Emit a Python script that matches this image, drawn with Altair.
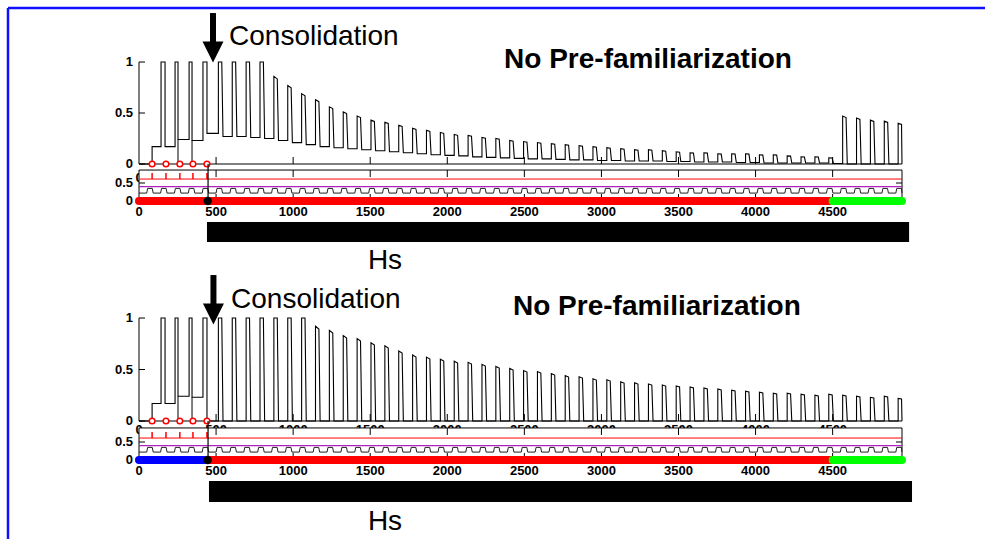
import altair as alt
import pandas as pd

# ---------------- data ----------------
XMAX = 4950
x_ticks = [0, 500, 1000, 1500, 2000, 2500, 3000, 3500, 4000, 4500]
x_tick_labels = ["0", "500", "1000", "1500", "2000", "2500", "3000", "3500", "4000", "4500"]
main_y_ticks = [0, 0.5, 1]
main_y_labels = ["0", "0.5", "1"]
sub_y_ticks = [0, 0.5]
sub_y_labels = ["0", "0.5"]

circle_x = [85, 175, 265, 350, 441]
consol_x = 448
dot_x = 446

# pre-familiarization part of the trace (vertices)
pre_x = [0, 85, 85, 143, 143, 169, 169, 234, 234, 253, 253, 325, 325, 344, 344, 415, 415, 441, 441]
pre_top_y = [0, 0, 0.17, 0.17, 1, 1, 0.17, 0.17, 1, 1, 0.24, 0.24, 1, 1, 0.23, 0.23, 1, 1, 0.30]
pre_bot_y = [0, 0, 0.17, 0.17, 1, 1, 0.17, 0.17, 1, 1, 0.24, 0.24, 1, 1, 0.23, 0.23, 1, 1, 0.0]
drop_x = [253, 344]
drop_y = [0.24, 0.23]

pulse_rise = [515, 605, 695, 785, 875, 965, 1055, 1145, 1235, 1325,
              1415, 1505, 1595, 1685, 1775, 1865, 1955, 2045, 2135, 2225,
              2315, 2405, 2495, 2585, 2675, 2765, 2855, 2945, 3035, 3125,
              3215, 3305, 3395, 3485, 3575, 3665, 3755, 3845, 3935, 4025,
              4115, 4205, 4295, 4385, 4475, 4565, 4655, 4745, 4835, 4925]
top_peak = [1.0, 1.0, 1.0, 1.0, 0.86, 0.77, 0.69, 0.63, 0.56, 0.51,
            0.47, 0.43, 0.41, 0.38, 0.35, 0.33, 0.31, 0.29, 0.28, 0.26,
            0.25, 0.23, 0.22, 0.21, 0.20, 0.19, 0.18, 0.17, 0.16, 0.15,
            0.14, 0.14, 0.13, 0.12, 0.11, 0.11, 0.10, 0.10, 0.10, 0.09,
            0.09, 0.08, 0.07, 0.07, 0.06, 0.47, 0.45, 0.43, 0.42, 0.40]
top_trough = [0.27, 0.27, 0.26, 0.25, 0.23, 0.21, 0.19, 0.17, 0.16, 0.15,
              0.14, 0.13, 0.12, 0.11, 0.10, 0.09, 0.085, 0.08, 0.07, 0.065,
              0.06, 0.055, 0.05, 0.05, 0.045, 0.04, 0.04, 0.035, 0.035, 0.03,
              0.03, 0.03, 0.025, 0.025, 0.02, 0.02, 0.02, 0.015, 0.015, 0.01,
              0.01, 0.01, 0.01, 0.01, 0.005, 0.0, 0.0, 0.0, 0.0, 0.0]
bot_peak = [1.0, 1.0, 1.0, 1.0, 1.0, 1.0, 1.0, 0.92, 0.88, 0.83,
            0.80, 0.76, 0.73, 0.68, 0.64, 0.62, 0.60, 0.58, 0.57, 0.55,
            0.53, 0.51, 0.49, 0.48, 0.46, 0.44, 0.43, 0.41, 0.40, 0.38,
            0.37, 0.36, 0.35, 0.34, 0.33, 0.32, 0.31, 0.30, 0.29, 0.28,
            0.27, 0.27, 0.26, 0.25, 0.26, 0.25, 0.24, 0.23, 0.24, 0.22]
bot_trough = [0.0] * 50

wave_rise = [50, 140, 230, 320, 410, 500, 590, 680, 770, 860,
             950, 1040, 1130, 1220, 1310, 1400, 1490, 1580, 1670, 1760,
             1850, 1940, 2030, 2120, 2210, 2300, 2390, 2480, 2570, 2660,
             2750, 2840, 2930, 3020, 3110, 3200, 3290, 3380, 3470, 3560,
             3650, 3740, 3830, 3920, 4010, 4100, 4190, 4280, 4370, 4460,
             4550, 4640, 4730, 4820, 4910]
wave_low, wave_high = 0.22, 0.35
red_level, red_tick_top, magenta_level = 0.61, 0.78, 0.40

top_band_start = [0, 4500]
top_band_end = [4500, 4950]
top_band_color = ["#FF0000", "#00FF00"]
bot_band_start = [0, 448, 4500]
bot_band_end = [448, 4500, 4950]
bot_band_color = ["#0000FF", "#FF0000", "#00FF00"]
hs_top = [441, 4996]
hs_bot = [454, 5015]

# ---------------- layout ----------------
FONT = "Liberation Sans"
X_RANGE = [139, 902]
TOP = dict(main=[164, 62], sub=[201, 165], bar=[242, 222], box=0.86, link=1.03, lab_dy=8,
           cons=(584, 1.245), title=(3302, 1.02), arrow=(480, 1.48, 1.16, 1.098), hs=(1596, -0.95))
BOT = dict(main=[421, 318], sub=[460, 424], bar=[502, 481], box=0.89, link=1.08, lab_dy=3,
           cons=(597, 1.175), title=(3360, 1.107), arrow=(483, 1.417, 1.11, 1.039), hs=(1596, -0.95))


def xsc():
    return alt.Scale(domain=[0, XMAX], range=X_RANGE, nice=False, zero=False)


def ysc(rng):
    return alt.Scale(domain=[0, 1], range=rng, nice=False, zero=False)


def X(f):
    return alt.X(f + ":Q", scale=xsc(), axis=None)


def Y(f, rng):
    return alt.Y(f + ":Q", scale=ysc(rng), axis=None)


def trace_frame(px, py, rises, peaks, troughs):
    xs, ys = list(px), list(py)
    level = ys[-1]
    for r, p, t in zip(rises, peaks, troughs):
        top_end = p if p >= 1 else p * 0.97
        xs += [r, r, min(r + 22, XMAX), min(r + 30, XMAX)]
        ys += [level, p, top_end, t]
        level = t
    xs.append(XMAX)
    ys.append(level)
    return pd.DataFrame({"x": xs, "y": ys, "i": range(len(xs))})


def wave_frame():
    xs, ys = [0], [wave_low]
    for w in wave_rise:
        xs += [w, w + 6, min(w + 36, XMAX), min(w + 42, XMAX)]
        ys += [wave_low, wave_high, wave_high, wave_low]
    xs.append(XMAX)
    ys.append(wave_low)
    return pd.DataFrame({"x": xs, "y": ys, "i": range(len(xs))})


def seg(x, x2, y, y2):
    return pd.DataFrame({"x": [x], "x2": [x2], "y": [y], "y2": [y2]})


def rule(df, rng, **kw):
    return alt.Chart(df).mark_rule(**kw).encode(
        x=X("x"), x2=alt.X2("x2:Q"), y=Y("y", rng), y2=alt.Y2("y2:Q"))


def main_group(P, trace_df):
    rng = P["main"]
    layers = []
    layers.append(rule(seg(0, XMAX, 0, 0), rng, color="black", strokeWidth=1.2))
    layers.append(rule(seg(0, 0, 0, 1), rng, color="black", strokeWidth=1))
    tk = pd.DataFrame({"x": x_ticks[1:], "x2": x_ticks[1:], "y": 0.0, "y2": 0.0})
    layers.append(rule(tk, rng, color="black", strokeWidth=1, y2Offset=-7))
    yt = pd.DataFrame({"x": 0, "x2": 0, "y": main_y_ticks, "y2": main_y_ticks})
    layers.append(rule(yt, rng, color="black", strokeWidth=1, x2Offset=6))
    ylab = pd.DataFrame({"x": 0, "y": main_y_ticks, "t": main_y_labels})
    layers.append(alt.Chart(ylab).mark_text(font=FONT, fontSize=13, fontWeight="bold", align="right",
                                            baseline="middle", dx=-6, color="black").encode(
        x=X("x"), y=Y("y", rng), text="t:N"))
    xlab = pd.DataFrame({"x": x_ticks, "y": 0.0, "t": x_tick_labels})
    layers.append(alt.Chart(xlab).mark_text(font=FONT, fontSize=13, fontWeight="bold", align="center",
                                            baseline="top", dy=P["lab_dy"], color="black").encode(
        x=X("x"), y=Y("y", rng), text="t:N"))
    dr = pd.DataFrame({"x": drop_x, "x2": drop_x, "y": 0.0, "y2": drop_y})
    layers.append(rule(dr, rng, color="black", strokeWidth=1))
    layers.append(alt.Chart(trace_df).mark_line(color="black", strokeWidth=1.1).encode(
        x=X("x"), y=Y("y", rng), order=alt.Order("i:Q")))
    cdf = pd.DataFrame({"x": circle_x, "y": 0.0})
    layers.append(alt.Chart(cdf).mark_point(shape="circle", filled=True, fill="white", stroke="red",
                                            strokeWidth=1.5, size=32, opacity=1).encode(
        x=X("x"), y=Y("y", rng)))
    ax, a_top, a_bot, a_head = P["arrow"]
    layers.append(rule(seg(ax, ax, a_top, a_bot), rng, color="black", strokeWidth=6))
    layers.append(alt.Chart(pd.DataFrame({"x": [ax], "y": [a_head]})).mark_point(
        shape="M-1,-1L1,-1L0,1Z", filled=True, color="black", size=441, opacity=1).encode(
        x=X("x"), y=Y("y", rng)))
    cx, cy = P["cons"]
    layers.append(alt.Chart(pd.DataFrame({"x": [cx], "y": [cy], "t": ["Consolidation"]})).mark_text(
        font=FONT, fontSize=28, align="left", baseline="middle", color="black").encode(
        x=X("x"), y=Y("y", rng), text="t:N"))
    tx, ty = P["title"]
    layers.append(alt.Chart(pd.DataFrame({"x": [tx], "y": [ty], "t": ["No Pre-familiarization"]})).mark_text(
        font=FONT, fontSize=28, fontWeight="bold", align="center", baseline="middle", color="black").encode(
        x=X("x"), y=Y("y", rng), text="t:N"))
    return alt.layer(*layers)


def sub_group(P, bs, be, bc):
    rng = P["sub"]
    top = P["box"]
    layers = []
    layers.append(alt.Chart(seg(0, XMAX, 0, top)).mark_rect(fill="white", stroke="black", strokeWidth=1).encode(
        x=X("x"), x2=alt.X2("x2:Q"), y=Y("y", rng), y2=alt.Y2("y2:Q")))
    layers.append(rule(seg(0, XMAX, red_level, red_level), rng, color="#FF0000", strokeWidth=1))
    layers.append(rule(seg(0, XMAX, magenta_level, magenta_level), rng, color="#B020C0", strokeWidth=1.2))
    rt = pd.DataFrame({"x": circle_x, "x2": circle_x, "y": red_level, "y2": red_tick_top})
    layers.append(rule(rt, rng, color="#FF0000", strokeWidth=1.5))
    layers.append(alt.Chart(wave_frame()).mark_line(color="#222222", strokeWidth=1).encode(
        x=X("x"), y=Y("y", rng), order=alt.Order("i:Q")))
    tkt = pd.DataFrame({"x": x_ticks[1:], "x2": x_ticks[1:], "y": top, "y2": top})
    layers.append(rule(tkt, rng, color="black", strokeWidth=1, y2Offset=7))
    tkb = pd.DataFrame({"x": x_ticks[1:], "x2": x_ticks[1:], "y": 0.0, "y2": 0.0})
    layers.append(rule(tkb, rng, color="black", strokeWidth=1, y2Offset=-7))
    layers.append(rule(pd.DataFrame({"x": 0, "x2": 0, "y": sub_y_ticks, "y2": sub_y_ticks}), rng,
                       color="black", strokeWidth=1, x2Offset=6))
    layers.append(rule(pd.DataFrame({"x": XMAX, "x2": XMAX, "y": sub_y_ticks, "y2": sub_y_ticks}), rng,
                       color="black", strokeWidth=1, x2Offset=-6))
    band = pd.DataFrame({"x": bs, "x2": be, "y": 0.0, "y2": 0.0})
    for j in range(len(bs)):
        layers.append(alt.Chart(band.iloc[[j]]).mark_rule(strokeWidth=8, strokeCap="round", color=bc[j]).encode(
            x=X("x"), x2=alt.X2("x2:Q"), y=Y("y", rng), y2=alt.Y2("y2:Q")))
    layers.append(rule(seg(consol_x, consol_x, 0, P["link"]), rng, color="black", strokeWidth=1.2))
    layers.append(alt.Chart(pd.DataFrame({"x": [dot_x], "y": [0.0]})).mark_point(
        shape="circle", filled=True, color="black", size=70, opacity=1).encode(x=X("x"), y=Y("y", rng)))
    ylab = pd.DataFrame({"x": 0, "y": sub_y_ticks, "t": sub_y_labels})
    layers.append(alt.Chart(ylab).mark_text(font=FONT, fontSize=13, fontWeight="bold", align="right",
                                            baseline="middle", dx=-6, color="black").encode(
        x=X("x"), y=Y("y", rng), text="t:N"))
    xlab = pd.DataFrame({"x": x_ticks, "y": 0.0, "t": x_tick_labels})
    layers.append(alt.Chart(xlab).mark_text(font=FONT, fontSize=13, fontWeight="bold", align="center",
                                            baseline="middle", dy=11, color="black").encode(
        x=X("x"), y=Y("y", rng), text="t:N"))
    return alt.layer(*layers)


def bar_group(P, hs):
    rng = P["bar"]
    r = alt.Chart(seg(hs[0], hs[1], 0, 1)).mark_rect(color="black").encode(
        x=X("x"), x2=alt.X2("x2:Q"), y=Y("y", rng), y2=alt.Y2("y2:Q"))
    hx, hy = P["hs"]
    t = alt.Chart(pd.DataFrame({"x": [hx], "y": [hy], "t": ["Hs"]})).mark_text(
        font=FONT, fontSize=28, align="center", baseline="middle", color="black").encode(
        x=X("x"), y=Y("y", rng), text="t:N")
    return alt.layer(r, t)


top_trace = trace_frame(pre_x, pre_top_y, pulse_rise, top_peak, top_trough)
bot_trace = trace_frame(pre_x, pre_bot_y, pulse_rise, bot_peak, bot_trough)

frame_src = pd.DataFrame({"a": [0]})
frame_h = alt.Chart(frame_src).mark_rule(color="#1010FF", strokeWidth=2.5).encode(
    x=alt.value(8), x2=alt.value(985), y=alt.value(8))
frame_v = alt.Chart(frame_src).mark_rule(color="#1010FF", strokeWidth=2.5).encode(
    x=alt.value(8), y=alt.value(8), y2=alt.value(539))

chart = alt.layer(
    main_group(TOP, top_trace),
    sub_group(TOP, top_band_start, top_band_end, top_band_color),
    bar_group(TOP, hs_top),
    main_group(BOT, bot_trace),
    sub_group(BOT, bot_band_start, bot_band_end, bot_band_color),
    bar_group(BOT, hs_bot),
    frame_h,
    frame_v,
).resolve_scale(y="independent").properties(
    width=985, height=539, autosize=alt.AutoSizeParams(type="none"), padding=0, background="white"
).configure_view(stroke=None)

chart.save("out.html", embed_options={"renderer": "svg", "actions": False})
